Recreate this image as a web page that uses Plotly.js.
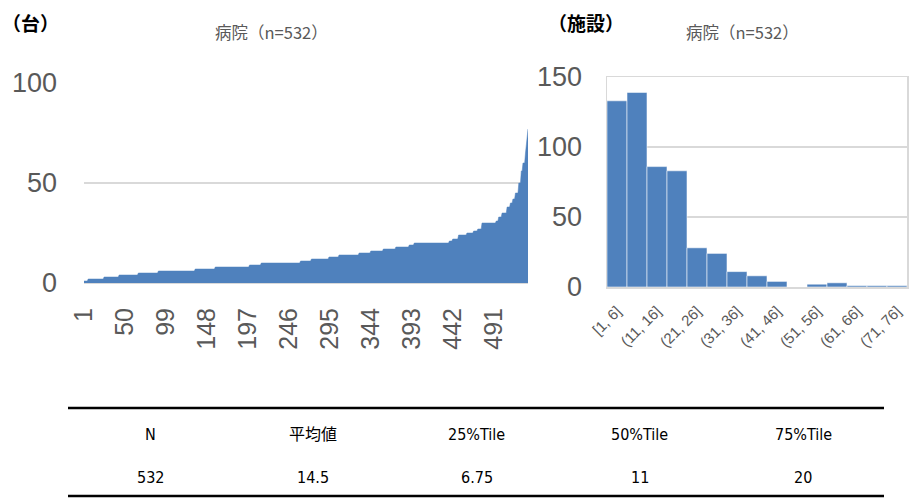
<!DOCTYPE html>
<html>
<head>
<meta charset="utf-8">
<script src="https://cdn.plot.ly/plotly-3.0.1.min.js"></script>
<style>
  html, body { margin: 0; padding: 0; background: #fff; }
  #chart { width: 922px; height: 500px; }
</style>
</head>
<body>
<div id="chart"></div>
<script>
// ---- Data ----
// Left chart: sorted number of units per hospital, as run-lengths (value, number of hospitals)
const unitValues = [1, 2, 3, 4, 5, 6, 7, 8, 9, 10, 11, 12, 13, 14, 15, 16, 17, 18, 19, 20, 21,
                    22, 24, 25, 26, 27, 30, 31, 33, 35, 38, 40, 42, 45, 50, 56, 60, 65, 69, 73, 77];
const unitCounts = [5, 19, 18, 23, 24, 44, 24, 41, 14, 47, 13, 21, 12, 24, 14, 15, 15, 16, 6, 42, 4,
                    7, 10, 8, 5, 5, 17, 3, 4, 6, 4, 3, 3, 4, 3, 2, 3, 1, 1, 1, 1];
const indexTicks = [1, 50, 99, 148, 197, 246, 295, 344, 393, 442, 491];

// Right chart: histogram of facilities per bin
const binLabels = ['[1, 6]', '(6, 11]', '(11, 16]', '(16, 21]', '(21, 26]', '(26, 31]', '(31, 36]',
                   '(36, 41]', '(41, 46]', '(46, 51]', '(51, 56]', '(56, 61]', '(61, 66]', '(66, 71]', '(71, 76]'];
const binCounts = [133, 139, 86, 83, 28, 24, 11, 8, 4, 0, 2, 3, 1, 1, 1];
const binTickLabels = ['[1, 6]', '(11, 16]', '(21, 26]', '(31, 36]', '(41, 46]', '(51, 56]', '(61, 66]', '(71, 76]'];

// Summary table
const statLabels = ['N', '平均値', '25%Tile', '50%Tile', '75%Tile'];
const statValues = ['532', '14.5', '6.75', '11', '20'];

const chartTitle = '病院（n=532）';
const leftUnit = '（台）';
const rightUnit = '（施設）';

// ---- Build series ----
const hospitalValues = [];
unitValues.forEach((v, i) => { for (let k = 0; k < unitCounts[i]; k++) hospitalValues.push(v); });
const hospitalIndex = hospitalValues.map((_, i) => i + 1);

const W = 922, H = 500;
const px = x => x / W;
const py = y => 1 - y / H;

const BLUE = '#4F81BD';
const GRID = '#D9D9D9';
const TICK = '#595959';
const LATIN = 'Liberation Sans, Noto Sans CJK JP, sans-serif';
const CJK = 'Noto Sans CJK JP, sans-serif';
const NARROW = 'Liberation Sans Narrow, DejaVu Sans Condensed, Noto Sans CJK JP, sans-serif';

const traces = [
  {
    type: 'scatter', mode: 'lines',
    x: hospitalIndex, y: hospitalValues,
    fill: 'tozeroy', fillcolor: BLUE,
    line: { color: BLUE, width: 0.5, shape: 'linear' },
    xaxis: 'x', yaxis: 'y', hoverinfo: 'x+y', showlegend: false
  },
  {
    type: 'bar',
    x: binLabels, y: binCounts,
    marker: { color: BLUE, line: { color: 'rgba(255,255,255,0.55)', width: 1 } },
    xaxis: 'x2', yaxis: 'y2', showlegend: false
  }
];

const annotations = [
  { text: chartTitle, xref: 'paper', yref: 'paper', x: px(271), y: py(32), showarrow: false,
    font: { family: CJK, size: 16.5, color: TICK }, xanchor: 'center', yanchor: 'middle' },
  { text: chartTitle, xref: 'paper', yref: 'paper', x: px(742), y: py(32), showarrow: false,
    font: { family: CJK, size: 16.5, color: TICK }, xanchor: 'center', yanchor: 'middle' },
  { text: '<b>' + leftUnit + '</b>', xref: 'paper', yref: 'paper', x: px(0), y: py(22), showarrow: false,
    font: { family: CJK, size: 19, color: '#000' }, xanchor: 'left', yanchor: 'middle' },
  { text: '<b>' + rightUnit + '</b>', xref: 'paper', yref: 'paper', x: px(546), y: py(22), showarrow: false,
    font: { family: CJK, size: 19, color: '#000' }, xanchor: 'left', yanchor: 'middle' }
];

statLabels.forEach((lab, i) => {
  const cx = px(150 + i * 163.25);
  annotations.push({ text: lab, xref: 'paper', yref: 'paper', x: cx, y: py(434), showarrow: false,
    font: { family: NARROW, size: 16, color: '#000' }, xanchor: 'center', yanchor: 'middle' });
  annotations.push({ text: statValues[i], xref: 'paper', yref: 'paper', x: cx, y: py(477), showarrow: false,
    font: { family: NARROW, size: 16, color: '#000' }, xanchor: 'center', yanchor: 'middle' });
});

const shapes = [
  { type: 'line', xref: 'paper', yref: 'paper', x0: px(68), x1: px(884), y0: py(408), y1: py(408),
    line: { color: '#000', width: 2.5 } },
  { type: 'line', xref: 'paper', yref: 'paper', x0: px(68), x1: px(884), y0: py(496), y1: py(496),
    line: { color: '#000', width: 2.5 } }
];

const layout = {
  width: W, height: H,
  margin: { l: 0, r: 0, t: 0, b: 0 },
  paper_bgcolor: '#fff', plot_bgcolor: '#fff',
  showlegend: false,
  bargap: 0,
  xaxis: {
    domain: [px(84), px(528)], anchor: 'y',
    range: [1, hospitalValues.length],
    tickmode: 'array', tickvals: indexTicks, ticktext: indexTicks.map(String),
    tickangle: -90, tickfont: { family: LATIN, size: 25, color: TICK },
    ticklabelstandoff: 14,
    showgrid: false, zeroline: false,
    showline: true, linecolor: GRID, linewidth: 1, ticks: ''
  },
  yaxis: {
    domain: [py(283), py(83)], anchor: 'x',
    range: [0, 100], tickvals: [0, 50, 100],
    tickfont: { family: LATIN, size: 27, color: TICK },
    ticklabelstandoff: 26,
    showgrid: true, gridcolor: GRID, gridwidth: 1.5, zeroline: false, showline: false, ticks: ''
  },
  xaxis2: {
    domain: [px(607), px(907)], anchor: 'y2',
    type: 'category', categoryorder: 'array', categoryarray: binLabels,
    range: [-0.5, binLabels.length - 0.5],
    tickmode: 'array', tickvals: binTickLabels, ticktext: binTickLabels,
    tickangle: -45, tickfont: { family: LATIN, size: 15, color: TICK },
    ticklabelstandoff: 8,
    showgrid: false, zeroline: false,
    showline: true, mirror: true, linecolor: GRID, linewidth: 1.5, ticks: ''
  },
  yaxis2: {
    domain: [py(287), py(77)], anchor: 'x2',
    range: [0, 150], tickvals: [0, 50, 100, 150],
    tickfont: { family: LATIN, size: 27, color: TICK },
    ticklabelstandoff: 18,
    showgrid: true, gridcolor: GRID, gridwidth: 1.5, zeroline: false,
    showline: true, mirror: true, linecolor: GRID, linewidth: 1.5, ticks: ''
  },
  annotations: annotations,
  shapes: shapes
};

Plotly.newPlot('chart', traces, layout, { displayModeBar: false, staticPlot: true });
</script>
</body>
</html>
